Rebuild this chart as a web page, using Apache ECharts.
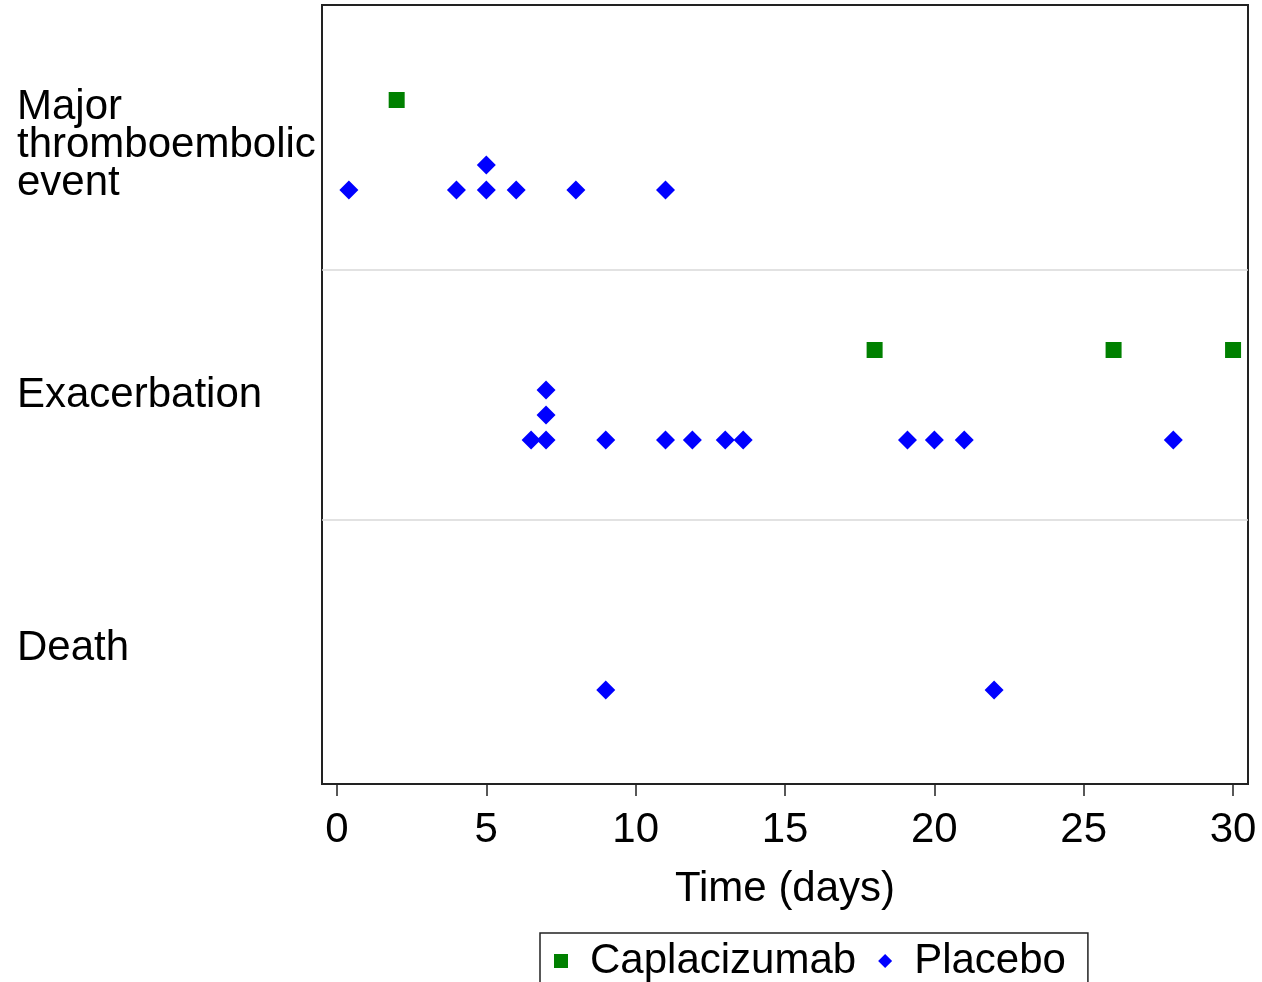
<!DOCTYPE html>
<html>
<head>
<meta charset="utf-8">
<script src="https://cdn.jsdelivr.net/npm/echarts@6/dist/echarts.min.js"></script>
<style>
  html, body { margin: 0; padding: 0; background: #fff; }
  #chart { width: 1262px; height: 982px; }
</style>
</head>
<body>
<div id="chart"></div>
<script>
// x ticks (days)
const xTicks = [0, 5, 10, 15, 20, 25, 30]
// row labels and where they sit on the y scale
const rowLabels = ['Death', 'Exacerbation', 'Major\nthromboembolic\nevent']
const rowLabelPos = [1.168, 2.18, 3.18]
// light separators between rows
const rowSeparators = [1.68, 2.68]

// [day, row position] ; rows: 3 = major TE, 2 = exacerbation, 1 = death
const caplacizumab = [[2, 3.36], [18, 2.36], [26, 2.36], [30, 2.36]]
const placebo = [
    [0.4, 3], [4, 3], [5, 3], [5, 3.1], [6, 3], [8, 3], [11, 3],
    [6.5, 2], [7, 2], [7, 2.1], [7, 2.2], [9, 2], [11, 2], [11.9, 2], [13, 2], [13.6, 2],
    [19.1, 2], [20, 2], [21, 2], [28, 2],
    [9, 1], [22, 1]
]

const font = "'Liberation Sans', Arial, Helvetica, sans-serif"
const chart = echarts.init(document.getElementById('chart'))

chart.setOption({
    animation: false,
    backgroundColor: '#fff',
    textStyle: { fontFamily: font },
    grid: {
        left: 322,
        right: 14,
        top: 5,
        bottom: 198,
        show: true,
        borderColor: '#222',
        borderWidth: 2,
        backgroundColor: '#fff'
    },
    legend: {
        top: 933,
        left: 540,
        padding: [7, 22, 30, 14],
        itemGap: 22,
        itemWidth: 14,
        itemHeight: 14,
        borderColor: '#222',
        borderWidth: 1.5,
        textStyle: { fontSize: 42, color: '#000', fontFamily: font, padding: [0, 0, 0, 17] },
        data: [
            { name: 'Caplacizumab', icon: 'rect' },
            { name: 'Placebo', icon: 'diamond' }
        ]
    },
    xAxis: {
        type: 'value',
        min: -0.5,
        max: 30.5,
        name: 'Time (days)',
        nameLocation: 'middle',
        nameGap: 84,
        nameTextStyle: { fontSize: 42, color: '#000', fontFamily: font },
        axisLine: { show: false },
        axisTick: {
            show: true,
            length: 12,
            customValues: xTicks,
            lineStyle: { color: '#222', width: 1.5 }
        },
        axisLabel: {
            customValues: xTicks,
            margin: 25,
            fontSize: 42,
            color: '#000',
            fontFamily: font
        },
        splitLine: { show: false }
    },
    yAxis: {
        type: 'value',
        min: 0.624,
        max: 3.74,
        axisLine: { show: false },
        axisTick: { show: false },
        splitLine: { show: false },
        axisLabel: {
            customValues: rowLabelPos,
            margin: 305,
            align: 'left',
            fontSize: 42,
            lineHeight: 38,
            color: '#000',
            fontFamily: font,
            formatter: function (v) {
                let idx = 0
                rowLabelPos.forEach(function (p, i) {
                    if (Math.abs(p - v) < Math.abs(rowLabelPos[idx] - v)) idx = i
                })
                return rowLabels[idx]
            }
        }
    },
    series: [
        {
            name: 'Caplacizumab',
            type: 'scatter',
            symbol: 'rect',
            symbolSize: 16,
            itemStyle: { color: '#008000', opacity: 1 },
            data: caplacizumab,
            z: 3
        },
        {
            name: 'Placebo',
            type: 'scatter',
            symbol: 'diamond',
            symbolSize: 19,
            itemStyle: { color: '#0000ff', opacity: 1 },
            data: placebo,
            z: 3,
            markLine: {
                silent: true,
                symbol: ['none', 'none'],
                label: { show: false },
                lineStyle: { color: '#d9d9d9', type: 'solid', width: 1.5 },
                data: rowSeparators.map(function (v) { return { yAxis: v } })
            }
        }
    ]
})
</script>
</body>
</html>
